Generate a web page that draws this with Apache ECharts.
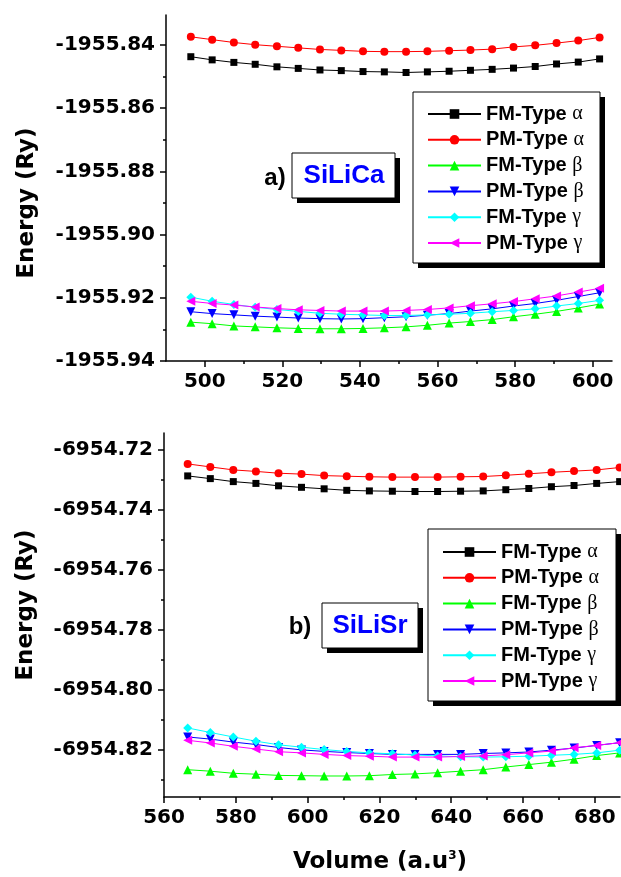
<!DOCTYPE html>
<html><head><meta charset="utf-8">
<script src="https://cdn.jsdelivr.net/npm/echarts@6/dist/echarts.min.js"></script>
<style>html,body{margin:0;padding:0;background:#fff}#c{width:621px;height:877px}</style>
</head><body><div id="c"></div><script>
// ---------- data: panel a) SiLiCa ----------
const volA = [496.4, 501.9, 507.5, 513.0, 518.6, 524.1, 529.7, 535.2, 540.8, 546.3, 551.9, 557.4, 563.0, 568.5, 574.1, 579.6, 585.2, 590.7, 596.3, 601.8];
const aFMalpha = [-1955.8437, -1955.8447, -1955.8455, -1955.8461, -1955.8469, -1955.8474, -1955.8479, -1955.8481, -1955.8484, -1955.8485, -1955.8487, -1955.8485, -1955.8483, -1955.8480, -1955.8477, -1955.8473, -1955.8468, -1955.8460, -1955.8454, -1955.8444];
const aPMalpha = [-1955.8374, -1955.8383, -1955.8392, -1955.8399, -1955.8404, -1955.8409, -1955.8414, -1955.8417, -1955.8420, -1955.8421, -1955.8421, -1955.8420, -1955.8418, -1955.8416, -1955.8413, -1955.8406, -1955.8401, -1955.8394, -1955.8386, -1955.8376];
const aFMbeta = [-1955.9277, -1955.9282, -1955.9289, -1955.9292, -1955.9295, -1955.9297, -1955.9298, -1955.9298, -1955.9297, -1955.9295, -1955.9292, -1955.9287, -1955.9280, -1955.9275, -1955.9269, -1955.9260, -1955.9252, -1955.9243, -1955.9232, -1955.9220];
const aPMbeta = [-1955.9244, -1955.9250, -1955.9254, -1955.9258, -1955.9261, -1955.9264, -1955.9266, -1955.9267, -1955.9266, -1955.9263, -1955.9260, -1955.9255, -1955.9250, -1955.9242, -1955.9235, -1955.9226, -1955.9218, -1955.9208, -1955.9196, -1955.9184];
const aFMgamma = [-1955.9198, -1955.9211, -1955.9221, -1955.9230, -1955.9237, -1955.9243, -1955.9249, -1955.9252, -1955.9254, -1955.9256, -1955.9256, -1955.9254, -1955.9252, -1955.9249, -1955.9244, -1955.9240, -1955.9235, -1955.9226, -1955.9218, -1955.9208];
const aPMgamma = [-1955.9211, -1955.9218, -1955.9223, -1955.9229, -1955.9234, -1955.9238, -1955.9240, -1955.9242, -1955.9242, -1955.9242, -1955.9240, -1955.9237, -1955.9232, -1955.9225, -1955.9219, -1955.9212, -1955.9203, -1955.9194, -1955.9182, -1955.9170];

// ---------- data: panel b) SiLiSr ----------
const volB = [566.6, 572.9, 579.3, 585.6, 591.9, 598.3, 604.6, 610.9, 617.2, 623.6, 629.9, 636.2, 642.6, 648.9, 655.2, 661.6, 667.9, 674.2, 680.5, 686.9];
const bFMalpha = [-6954.7288, -6954.7297, -6954.7307, -6954.7313, -6954.7321, -6954.7326, -6954.7331, -6954.7336, -6954.7338, -6954.7339, -6954.7340, -6954.7340, -6954.7339, -6954.7338, -6954.7334, -6954.7330, -6954.7324, -6954.7320, -6954.7313, -6954.7307];
const bPMalpha = [-6954.7248, -6954.7258, -6954.7268, -6954.7273, -6954.7279, -6954.7282, -6954.7287, -6954.7289, -6954.7291, -6954.7292, -6954.7292, -6954.7292, -6954.7291, -6954.7290, -6954.7286, -6954.7281, -6954.7276, -6954.7272, -6954.7268, -6954.7260];
const bFMbeta = [-6954.8267, -6954.8272, -6954.8279, -6954.8282, -6954.8286, -6954.8287, -6954.8288, -6954.8288, -6954.8287, -6954.8283, -6954.8281, -6954.8277, -6954.8272, -6954.8267, -6954.8258, -6954.8250, -6954.8242, -6954.8232, -6954.8220, -6954.8211];
const bPMbeta = [-6954.8158, -6954.8165, -6954.8175, -6954.8183, -6954.8193, -6954.8201, -6954.8206, -6954.8210, -6954.8213, -6954.8216, -6954.8216, -6954.8216, -6954.8216, -6954.8213, -6954.8211, -6954.8208, -6954.8202, -6954.8195, -6954.8186, -6954.8177];
const bFMgamma = [-6954.8128, -6954.8143, -6954.8158, -6954.8172, -6954.8184, -6954.8192, -6954.8200, -6954.8206, -6954.8211, -6954.8214, -6954.8218, -6954.8221, -6954.8224, -6954.8225, -6954.8224, -6954.8222, -6954.8219, -6954.8216, -6954.8211, -6954.8202];
const bPMgamma = [-6954.8169, -6954.8178, -6954.8189, -6954.8198, -6954.8207, -6954.8211, -6954.8216, -6954.8220, -6954.8222, -6954.8225, -6954.8225, -6954.8225, -6954.8223, -6954.8221, -6954.8217, -6954.8211, -6954.8205, -6954.8194, -6954.8186, -6954.8177];

// ---------- ticks ----------
const xTicksA = [500, 520, 540, 560, 580, 600];
const xMinorA = [510, 530, 550, 570, 590];
const yTicksA = [-1955.94, -1955.92, -1955.90, -1955.88, -1955.86, -1955.84];
const yMinorA = [-1955.93, -1955.91, -1955.89, -1955.87, -1955.85];
const xTicksB = [560, 580, 600, 620, 640, 660, 680];
const xMinorB = [570, 590, 610, 630, 650, 670];
const yTicksB = [-6954.82, -6954.80, -6954.78, -6954.76, -6954.74, -6954.72];
const yMinorB = [-6954.83, -6954.81, -6954.79, -6954.77, -6954.75, -6954.73];

const seriesNames = ['FM-Type α', 'PM-Type α', 'FM-Type β', 'PM-Type β', 'FM-Type γ', 'PM-Type γ'];
const colors = ['#000000', '#ff0000', '#00ff00', '#0000ff', '#00ffff', '#ff00ff'];
const symbols = ['rect', 'circle', 'triangle', 'triangle', 'diamond', 'triangle'];
const rotations = [0, 0, 0, 180, 0, 90];
const sizes = [7, 8, 9, 9, 9, 9];

const zip = (xs, ys) => xs.map((x, i) => [x, ys[i]]);
const dataA = [aFMalpha, aPMalpha, aFMbeta, aPMbeta, aFMgamma, aPMgamma];
const dataB = [bFMalpha, bPMalpha, bFMbeta, bPMbeta, bFMgamma, bPMgamma];

const TICKFONT = {fontFamily: 'DejaVu Sans', fontWeight: 'bold', fontSize: 20, color: '#000'};
const axisLineStyle = {show: true, lineStyle: {color: '#000', width: 1.5}};

function mkSeries(vals, xi, yi) {
  return vals.map((ys, k) => ({
    type: 'line', name: seriesNames[k], xAxisIndex: xi, yAxisIndex: yi,
    data: zip(xi === 0 ? volA : volB, ys),
    symbol: symbols[k], symbolRotate: rotations[k], symbolSize: sizes[k],
    showAllSymbol: true, animation: false,
    lineStyle: {color: colors[k], width: 1},
    itemStyle: {color: colors[k]},
    z: 3
  }));
}

function majorAxis(grid, min, max, ticks, isY) {
  return {
    type: 'value', gridIndex: grid, min: min, max: max,
    position: isY ? 'left' : 'bottom',
    axisLine: axisLineStyle,
    axisTick: {show: true, customValues: ticks, length: 6, lineStyle: {color: '#000', width: 1.5}},
    axisLabel: Object.assign({show: true, customValues: ticks, margin: 11,
      formatter: v => isY ? v.toFixed(2) : String(Math.round(v))}, TICKFONT),
    splitLine: {show: false}
  };
}
function minorAxis(grid, min, max, ticks, isY) {
  return {
    type: 'value', gridIndex: grid, min: min, max: max,
    position: isY ? 'left' : 'bottom',
    axisLine: {show: false},
    axisTick: {show: true, customValues: ticks, length: 3, lineStyle: {color: '#000', width: 1.5}},
    axisLabel: {show: false},
    splitLine: {show: false}
  };
}

const legendCommon = {
  orient: 'vertical', data: seriesNames, z: 12,
  itemWidth: 53, itemHeight: 12, itemGap: 5.8,
  padding: 0,
  selectedMode: false,
  textStyle: {fontFamily: 'Liberation Sans', fontWeight: 'bold', fontSize: 20, color: '#000',
    rich: {g: {fontFamily: 'Liberation Serif', fontWeight: 'normal', fontSize: 20, color: '#000'}}},
  formatter: n => n.slice(0, -1) + '{g|' + n.slice(-1) + '}'
};

function boxWithShadow(x, y, w, h) {
  return [
    {type: 'rect', z: 10, shape: {x: x + 5, y: y + 5, width: w, height: h}, style: {fill: '#000'}},
    {type: 'rect', z: 11, shape: {x: x, y: y, width: w, height: h}, style: {fill: '#fff', stroke: '#000', lineWidth: 1}}
  ];
}

const option = {
  backgroundColor: '#fff',
  animation: false,
  grid: [
    {left: 166, top: 15, width: 446, height: 346},
    {left: 164, top: 433, width: 456, height: 364}
  ],
  xAxis: [
    majorAxis(0, 490, 605, xTicksA, false),
    minorAxis(0, 490, 605, xMinorA, false),
    majorAxis(1, 560, 687, xTicksB, false),
    minorAxis(1, 560, 687, xMinorB, false)
  ],
  yAxis: [
    majorAxis(0, -1955.94, -1955.8305, yTicksA, true),
    minorAxis(0, -1955.94, -1955.8305, yMinorA, true),
    majorAxis(1, -6954.8358, -6954.7145, yTicksB, true),
    minorAxis(1, -6954.8358, -6954.7145, yMinorB, true)
  ],
  legend: [
    Object.assign({left: 427, top: 104}, legendCommon),
    Object.assign({left: 442, top: 542}, legendCommon)
  ],
  series: mkSeries(dataA, 0, 0).concat(mkSeries(dataB, 2, 2)),
  graphic: [
    {type: 'text', x: 27, y: 203, rotation: Math.PI / 2,
      style: {text: 'Energy (Ry)', font: 'bold 23px "DejaVu Sans"', fill: '#000', align: 'center', verticalAlign: 'middle'}},
    {type: 'text', x: 26, y: 605, rotation: Math.PI / 2,
      style: {text: 'Energy (Ry)', font: 'bold 23px "DejaVu Sans"', fill: '#000', align: 'center', verticalAlign: 'middle'}},
    {type: 'text', x: 380, y: 862,
      style: {text: '{m|Volume (a.u}{s|3}{m|)}', align: 'center', verticalAlign: 'middle',
        rich: {m: {font: 'bold 23px "DejaVu Sans"', fill: '#000', verticalAlign: 'bottom'},
               s: {font: 'bold 12px "DejaVu Sans"', fill: '#000', verticalAlign: 'top', padding: [0, 0, 12, 0]}}}},
    ...boxWithShadow(413, 92, 187, 171),
    ...boxWithShadow(428, 529, 188, 172),
    ...boxWithShadow(292, 153, 103, 45),
    {type: 'text', x: 344, y: 176, z: 12,
      style: {text: 'SiLiCa', font: 'bold 26px "Liberation Sans"', fill: '#0000ff', align: 'center', verticalAlign: 'middle'}},
    {type: 'text', x: 275, y: 178, z: 12,
      style: {text: 'a)', font: 'bold 24px "Liberation Sans"', fill: '#000', align: 'center', verticalAlign: 'middle'}},
    ...boxWithShadow(322, 603, 96, 45),
    {type: 'text', x: 370, y: 626, z: 12,
      style: {text: 'SiLiSr', font: 'bold 26px "Liberation Sans"', fill: '#0000ff', align: 'center', verticalAlign: 'middle'}},
    {type: 'text', x: 300, y: 627, z: 12,
      style: {text: 'b)', font: 'bold 24px "Liberation Sans"', fill: '#000', align: 'center', verticalAlign: 'middle'}}
  ]
};
const chart = echarts.init(document.getElementById('c'), null, {renderer: 'canvas'});
chart.setOption(option);
</script></body></html>
